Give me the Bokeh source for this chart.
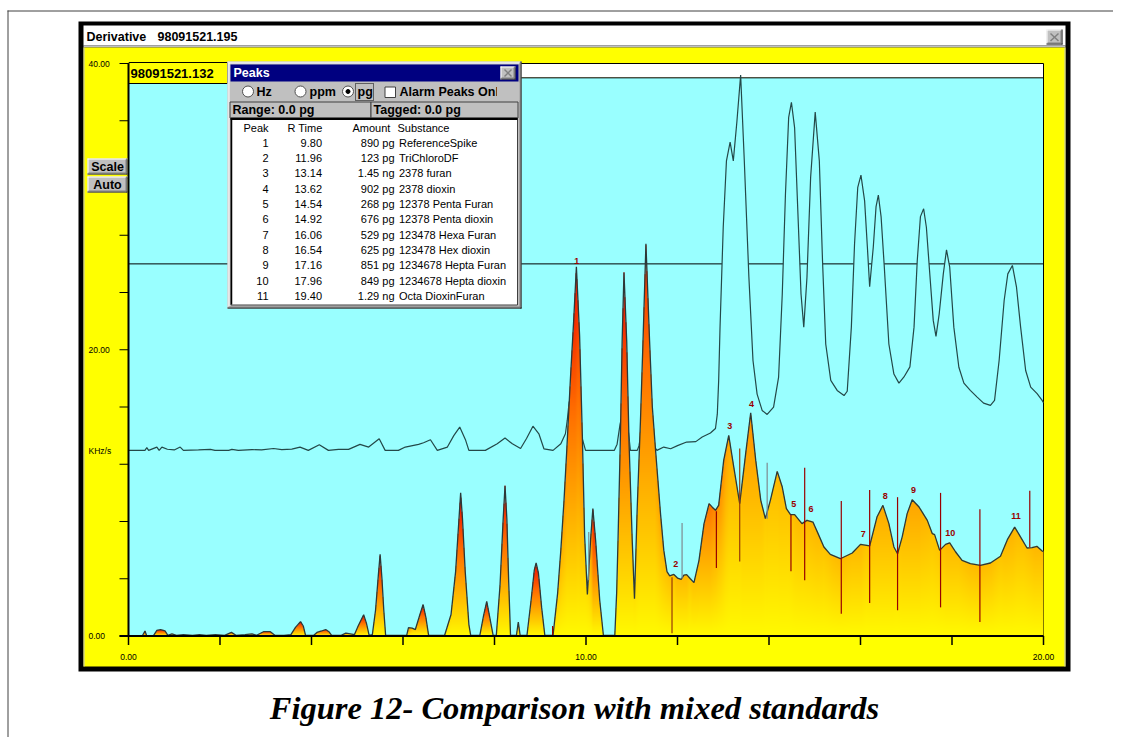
import numpy as np
from bokeh.plotting import figure
from bokeh.models import Range1d
from bokeh.core.properties import value
from bokeh.embed import file_html
from bokeh.resources import INLINE

# ------------------------------------------------------------------ data
# lower chromatogram (filled, gradient) : retention time (min) / KHz/s
lower_x = [0.00, 0.30, 0.36, 0.40, 0.55, 0.62, 0.70, 0.80, 0.86, 0.95, 1.05, 1.20, 1.40, 1.55,
           1.70, 1.90, 2.10, 2.25, 2.35, 2.55, 2.70, 2.80, 2.95, 3.10, 3.20, 3.40, 3.55, 3.65,
           3.76, 3.82, 3.87, 4.05, 4.12, 4.22, 4.31, 4.38, 4.44, 4.65, 4.75, 4.85, 4.94, 5.02,
           5.14, 5.20, 5.26, 5.33, 5.40, 5.46, 5.50, 5.54, 5.58, 5.62, 6.08, 6.12, 6.20, 6.27,
           6.36, 6.44, 6.50, 6.56, 6.91, 7.05, 7.15, 7.22, 7.26, 7.30, 7.36, 7.44, 7.48, 7.68,
           7.76, 7.83, 7.89, 7.97, 8.04, 8.12, 8.19, 8.23, 8.27, 8.31, 8.35, 8.48, 8.52, 8.56,
           8.71, 8.80, 8.87, 8.91, 8.96, 9.03, 9.10, 9.28, 9.38, 9.45, 9.52, 9.58, 9.66, 9.73,
           9.79, 9.86, 9.92, 9.97, 10.03, 10.10, 10.15, 10.21, 10.30, 10.38, 10.63, 10.67,
           10.70, 10.75, 10.79, 10.83, 10.89, 10.94, 11.01, 11.06, 11.12, 11.19, 11.25, 11.31,
           11.39, 11.45, 11.52, 11.63, 11.70, 11.77, 11.83, 11.92, 12.00, 12.08, 12.14, 12.20,
           12.28, 12.36, 12.47, 12.58, 12.69, 12.76, 12.83, 12.90, 13.01, 13.12, 13.23, 13.36,
           13.49, 13.60, 13.71, 13.82, 13.92, 14.03, 14.18, 14.29, 14.38, 14.47, 14.56, 14.72,
           14.83, 14.96, 15.08, 15.20, 15.34, 15.56, 15.82, 16.00, 16.20, 16.36, 16.49, 16.62,
           16.73, 16.81, 16.91, 17.02, 17.13, 17.28, 17.46, 17.57, 17.62, 17.73, 17.86, 17.95,
           18.08, 18.22, 18.40, 18.62, 18.84, 19.06, 19.21, 19.37, 19.50, 19.64, 19.75, 19.86,
           19.97, 20.00]
lower_y = [0.00, 0.00, 0.35, 0.00, 0.05, 0.40, 0.45, 0.35, 0.05, 0.15, 0.05, 0.10, 0.05, 0.10,
           0.05, 0.10, 0.05, 0.25, 0.05, 0.10, 0.15, 0.05, 0.30, 0.30, 0.05, 0.05, 0.10, 0.60,
           1.00, 0.70, 0.05, 0.05, 0.25, 0.35, 0.45, 0.30, 0.05, 0.05, 0.20, 0.15, 0.10, 0.70,
           1.49, 0.90, 0.05, 0.10, 1.80, 4.20, 5.70, 4.00, 1.80, 0.05, 0.05, 0.58, 0.55, 0.45,
           1.40, 2.20, 1.30, 0.05, 0.05, 1.50, 4.50, 8.00, 10.00, 8.20, 4.50, 0.80, 0.05, 0.05,
           1.40, 2.42, 1.40, 0.05, 0.05, 3.50, 8.20, 10.50, 8.20, 3.80, 0.05, 0.05, 0.98, 0.05,
           0.05, 2.50, 4.60, 5.10, 4.40, 2.00, 0.05, 0.05, 3.00, 6.00, 9.50, 13.00, 18.00, 22.00,
           25.80, 21.00, 14.00, 7.00, 2.90, 6.70, 8.90, 6.70, 2.50, 0.05, 0.05, 3.00,
           6.70, 13.60, 20.60, 25.40, 20.60, 13.60, 6.70, 2.60, 9.00, 15.00, 21.00, 27.40,
           20.60, 16.00, 13.00, 8.50, 6.00, 4.50, 4.20, 4.30, 4.05, 3.96, 4.25, 4.29,
           4.00, 3.73, 5.29, 7.85, 9.25, 9.00, 8.78, 9.13, 12.27, 14.02, 11.80, 9.25,
           12.74, 15.60, 12.27, 9.48, 8.20, 9.48, 11.50, 10.41, 8.90, 8.48, 8.48, 7.85,
           8.08, 7.96, 7.10, 6.22, 5.70, 5.40, 5.80, 6.40, 6.29, 8.31, 9.13, 7.85,
           6.22, 5.75, 6.91, 8.55, 9.52, 9.01, 8.08, 7.15, 7.08, 5.98, 6.40, 6.50,
           5.87, 5.29, 5.06, 4.94, 5.10, 5.57, 6.73, 7.61, 6.91, 6.15, 6.17, 6.26,
           5.94, 5.90]

# upper trace (line)
upper_x = [0.00, 0.36, 0.40, 0.44, 0.62, 0.67, 0.73, 0.85, 1.00, 1.13, 1.20, 1.53, 1.79, 1.89,
           2.19, 2.26, 2.40, 2.70, 2.91, 3.17, 3.35, 3.57, 3.75, 3.93, 4.17, 4.37, 4.59, 4.81,
           5.06, 5.25, 5.48, 5.61, 5.90, 6.05, 6.34, 6.45, 6.60, 6.75, 6.97, 7.11, 7.24, 7.37,
           7.44, 7.80, 8.06, 8.23, 8.39, 8.57, 8.70, 8.84, 8.97, 9.08, 9.28, 9.45, 9.55, 9.59,
           9.63, 9.78, 9.91, 9.99, 10.62, 10.68, 10.745, 10.83, 10.93, 10.97, 11.12, 11.16,
           11.20, 11.30, 11.50, 11.55, 11.70, 11.85, 12.00, 12.20, 12.40, 12.54, 12.72, 12.83,
           12.87, 12.90, 12.93, 13.00, 13.07, 13.15, 13.22, 13.30, 13.38, 13.46, 13.56, 13.65,
           13.74, 13.85, 13.96, 14.10, 14.21, 14.29, 14.36, 14.43, 14.49, 14.56, 14.63, 14.70,
           14.76, 14.83, 14.91, 15.01, 15.10, 15.17, 15.24, 15.35, 15.49, 15.64, 15.71, 15.80,
           15.87, 15.94, 16.01, 16.09, 16.15, 16.20, 16.28, 16.34, 16.39, 16.45, 16.52, 16.62,
           16.73, 16.84, 16.95, 17.08, 17.17, 17.24, 17.31, 17.38, 17.44, 17.52, 17.59, 17.65,
           17.72, 17.81, 17.88, 17.95, 18.04, 18.15, 18.26, 18.40, 18.55, 18.69, 18.84, 18.93,
           19.03, 19.14, 19.22, 19.32, 19.41, 19.50, 19.61, 19.72, 19.86, 19.97, 20.00]
upper_y = [12.97, 12.97, 13.16, 12.97, 13.20, 12.97, 13.20, 13.05, 13.00, 13.20, 12.97, 13.00,
           13.04, 12.97, 12.97, 13.04, 12.97, 13.02, 13.00, 13.10, 13.02, 13.06, 13.20, 12.97,
           13.36, 12.97, 13.04, 13.04, 13.39, 13.20, 13.78, 12.97, 12.97, 13.20, 13.39, 13.50,
           13.71, 12.97, 13.20, 14.00, 14.60, 13.67, 12.97, 12.97, 13.43, 13.83, 13.43, 13.10,
           13.80, 14.66, 14.13, 13.08, 12.97, 13.43, 14.13, 15.06, 16.30, 18.00, 13.90, 12.97,
           12.97, 13.40, 14.80, 16.00, 14.20, 12.97, 12.97, 13.30, 14.20, 16.00, 13.20, 12.97,
           13.20, 13.08, 13.30, 13.55, 13.58, 13.90, 14.18, 14.50, 15.50, 17.86, 21.60, 28.60,
           33.20, 34.50, 33.20, 36.00, 39.20, 33.20, 25.10, 19.25, 16.90, 15.76, 15.48, 15.99,
           18.09, 23.90, 30.90, 36.24, 37.29, 35.50, 29.70, 23.90, 21.58, 25.07, 32.05, 36.60,
           33.20, 26.20, 20.40, 17.86, 17.16, 16.80, 17.10, 21.58, 27.40, 31.35, 32.20, 30.40,
           27.20, 24.40, 27.20, 30.00, 30.80, 29.30, 25.80, 20.40, 18.30, 17.67, 18.10, 18.80,
           21.58, 26.20, 29.30, 29.85, 28.56, 25.07, 22.05, 20.93, 22.50, 25.30, 26.98, 25.77,
           21.58, 18.78, 17.67, 17.16, 16.69, 16.27, 16.11, 16.46, 19.25, 23.44, 25.30, 25.89,
           24.37, 21.58, 18.55, 17.39, 16.93, 16.46, 16.30]

threshold = 26.0          # horizontal reference line
unit_label = "KHz/s"
unit_label_y = 12.9

# peak table
peak_ids = [1, 2, 3, 4, 5, 6, 7, 8, 9, 10, 11]
peak_rtime = [9.80, 11.96, 13.14, 13.62, 14.54, 14.92, 16.06, 16.54, 17.16, 17.96, 19.40]
peak_amount = ["890 pg", "123 pg", "1.45 ng", "902 pg", "268 pg", "676 pg",
               "529 pg", "625 pg", "851 pg", "849 pg", "1.29 ng"]
peak_substance = ["ReferenceSpike", "TriChloroDF", "2378 furan", "2378 dioxin",
                  "12378 Penta Furan", "12378 Penta dioxin", "123478 Hexa Furan",
                  "123478 Hex dioxin", "1234678 Hepta Furan", "1234678 Hepta dioxin",
                  "Octa DioxinFuran"]
peak_label_y = [26.2, 5.05, 14.7, 16.2, 9.2, 8.85, 7.15, 9.78, 10.2, 7.22, 8.36]

# integration markers
marker_x = [9.27, 10.06, 11.88, 12.10, 12.85, 13.36, 13.96, 14.48, 14.78, 15.58, 16.20,
            16.81, 17.75, 18.61, 19.70]
marker_top = [0.7, 7.26, 4.1, 7.9, 8.71, 13.1, 12.1, 8.48, 11.76, 9.43, 10.2, 9.7, 10.0,
              8.85, 10.15]
marker_bottom = [0.0, 3.9, 0.2, 4.0, 4.75, 5.2, 8.2, 4.52, 3.89, 1.56, 2.3, 1.8, 2.0,
                 0.98, 6.2]
marker_kind = ["dark", "grey", "brown", "grey", "dark", "brown", "grey", "dark", "dark",
               "dark", "dark", "dark", "dark", "dark", "dark"]

# axes
x_ticks = [0, 2, 4, 6, 8, 10, 12, 14, 16, 18, 20]
x_label_vals = [0, 10, 20]
x_label_text = ["0.00", "10.00", "20.00"]
y_ticks = [0, 4, 8, 12, 16, 20, 24, 28, 32, 36, 40]
y_label_vals = [0, 20, 40]
y_label_text = ["0.00", "20.00", "40.00"]

# ------------------------------------------------------------------ geometry / style
W, H = 1113, 737
PX0, PX20, PY0, PY40 = 128.0, 1043.0, 635.5, 63.0
XS = (PX20 - PX0) / 20.0
YS = (PY0 - PY40) / 40.0
CYAN = "#99ffff"
YEL = "#ffff00"
GREY = "#c0c0c0"
SANS = "Liberation Sans"

p = figure(width=W, height=H, x_range=Range1d(0, W), y_range=Range1d(H, 0),
           output_backend="svg", toolbar_location=None, min_border=0, title=None,
           x_axis_location=None, y_axis_location=None,
           background_fill_color="white", border_fill_color="white", outline_line_color=None)
p.xgrid.visible = False
p.ygrid.visible = False
p.extra_x_ranges = {"t": Range1d((0 - PX0) / XS, (W - PX0) / XS)}
p.extra_y_ranges = {"k": Range1d((PY0 - H) / YS, PY0 / YS)}
D = dict(x_range_name="t", y_range_name="k")


def rect(l, t, r, b, fill, line=None, lw=1.0, dash="solid"):
    p.quad(left=[l], right=[r], top=[t], bottom=[b], fill_color=fill, line_color=line,
           line_width=lw, line_dash=dash)


def seg(x0, y0, x1, y1, color, lw=1.0):
    p.segment(x0=[x0], y0=[y0], x1=[x1], y1=[y1], line_color=color, line_width=lw)


def txt(x, y, s, size=12.5, align="left", color="black", style="normal", font=SANS,
        baseline="middle"):
    p.text(x=[x], y=[y], text=[s], text_font=value(font), text_font_size=f"{size}px",
           text_font_style=style, text_align=align, text_baseline=baseline, text_color=color)


def bevel(l, t, r, b):
    rect(l, t, r, b, GREY)
    seg(l, t + 0.5, r, t + 0.5, "white")
    seg(l + 0.5, t, l + 0.5, b, "white")
    seg(l, b - 0.5, r, b - 0.5, "#202020")
    seg(r - 0.5, t, r - 0.5, b, "#202020")
    seg(l + 1, b - 1.5, r - 1, b - 1.5, "#808080")
    seg(r - 1.5, t + 1, r - 1.5, b - 1, "#808080")


# ------------------------------------------------------------------ page + window chrome
seg(7, 10.5, W, 10.5, "#404040")
seg(7.5, 10, 7.5, H, "#404040")

rect(78, 21, 1070, 671, "black")
rect(83, 25, 1065, 45, "white")
rect(83, 45, 1065, 47, GREY)
rect(83, 47, 1065, 666, YEL)
seg(83.5, 47, 83.5, 666, GREY)
seg(1064.5, 47, 1064.5, 666, GREY)
txt(86, 36, "Derivative", 12.5, style="bold")
txt(157, 36, "98091521.195", 12.5, style="bold")
bevel(1046, 29, 1062, 44)
seg(1050, 33, 1058, 40.5, "#808080", 1.5)
seg(1058, 33, 1050, 40.5, "#808080", 1.5)

# ------------------------------------------------------------------ chart
p.quad(left=[0], right=[20], bottom=[0], top=[39], fill_color=CYAN, line_color=None, **D)
p.quad(left=[0], right=[20], bottom=[39], top=[40], fill_color="white", line_color=None, **D)
p.segment(x0=[0, 0, 20], x1=[20, 20, 20], y0=[39, 40, 0], y1=[39, 40, 40],
          line_color="black", line_width=1, **D)
p.segment(x0=[0], x1=[20], y0=[threshold], y1=[threshold], line_color="black",
          line_width=1, **D)

uy = np.array(upper_y)
p.varea(x=upper_x, y1=np.minimum(uy, threshold - 0.15), y2=uy, fill_color=CYAN, **D)
p.line(upper_x, upper_y, line_color="#244848", line_width=1.2, **D)

# gradient fill under the lower trace
IMG_TOP = 28.5
ncol = int(round(20 * XS))
nrow = int(round(IMG_TOP * YS))
xc = (np.arange(ncol) + 0.5) * 20.0 / ncol
yc = (np.arange(nrow) + 0.5) * IMG_TOP / nrow
h = np.interp(xc, lower_x, lower_y)


def sliding(arr, half, fn):
    pad = np.pad(arr, half, mode="edge")
    win = np.lib.stride_tricks.sliding_window_view(pad, 2 * half + 1)
    return fn(win, axis=1)


step = 20.0 / ncol
hmax = sliding(h, int(0.2 / step), np.max)
hmin = sliding(h, int(0.5 / step), np.min)
prom = np.clip((hmax - hmin) / np.maximum(hmax, 1e-6), 0.3, 1.0)
tt = np.clip(yc[:, None] / np.maximum(hmax[None, :], 0.3), 0, 1) * prom[None, :]
stops = [0.0, 0.35, 0.62, 0.85, 1.0]
R = np.interp(tt, stops, [255, 255, 255, 245, 228])
G = np.interp(tt, stops, [250, 172, 110, 48, 18])
inside = yc[:, None] <= h[None, :]
img = np.zeros((nrow, ncol), dtype=np.uint32)
view = img.view(dtype=np.uint8).reshape((nrow, ncol, 4))
view[:, :, 0] = R.astype(np.uint8)
view[:, :, 1] = G.astype(np.uint8)
view[:, :, 2] = 0
view[:, :, 3] = np.where(inside, 255, 0).astype(np.uint8)
p.image_rgba(image=[img], x=0, y=0, dw=20, dh=IMG_TOP, **D)
p.line(lower_x, lower_y, line_color="#2c3838", line_width=1.3, **D)

mcol = {"dark": "#990000", "grey": "#7f8a8f", "brown": "#9a3a08"}
p.segment(x0=marker_x, x1=marker_x, y0=marker_bottom, y1=marker_top,
          line_color=[mcol[k] for k in marker_kind], line_width=1.2, **D)
p.text(x=peak_rtime, y=peak_label_y, text=[str(i) for i in peak_ids],
       text_font=value(SANS), text_font_size="9px", text_font_style="bold",
       text_color="#990000", text_align="center", text_baseline="middle", **D)

# axes (drawn on the chart's own data ranges)
TICK = 9.0
p.segment(x0=[0], x1=[0], y0=[0], y1=[40], line_color="black", line_width=2, **D)
p.segment(x0=[-TICK / XS], x1=[20], y0=[0], y1=[0], line_color="black", line_width=2, **D)
p.segment(x0=[0] * len(y_ticks), x1=[-TICK / XS] * len(y_ticks), y0=y_ticks, y1=y_ticks,
          line_color="black", line_width=1, **D)
p.segment(x0=x_ticks, x1=x_ticks, y0=[0] * len(x_ticks), y1=[-TICK / YS] * len(x_ticks),
          line_color="black", line_width=1.5, **D)
p.text(x=[0] * 3, y=y_label_vals, text=y_label_text, x_offset=-40, text_font=value(SANS),
       text_font_size="8.5px", text_align="left", text_baseline="middle", **D)
p.text(x=[0], y=[unit_label_y], text=[unit_label], x_offset=-40, text_font=value(SANS),
       text_font_size="8.5px", text_align="left", text_baseline="middle", **D)
p.text(x=x_label_vals, y=[0] * 3, text=x_label_text, y_offset=21, text_font=value(SANS),
       text_font_size="8.5px", text_align="center", text_baseline="middle", **D)

# yellow trace-id box
rect(128.5, 62, 227, 83, YEL, line="black", lw=1)
txt(130, 73, "98091521.132", 13, style="bold")

# ------------------------------------------------------------------ Peaks dialog
rect(227, 61, 521, 308, GREY)
seg(227, 61.5, 521, 61.5, "#dfdfdf")
seg(227.5, 61, 227.5, 308, "#dfdfdf")
seg(228, 62.5, 520, 62.5, "white")
seg(228.5, 62, 228.5, 307, "white")
seg(227, 307.5, 521, 307.5, "black")
seg(520.5, 61, 520.5, 308, "black")
seg(228, 306.5, 520, 306.5, "#808080")
seg(519.5, 62, 519.5, 307, "#808080")
rect(230, 64, 518, 81, "#000080")
txt(233, 72.5, "Peaks", 12.5, color="white", style="bold")
bevel(500, 66, 515, 79)
seg(504, 69, 511, 76, "#808080", 1.5)
seg(511, 69, 504, 76, "#808080", 1.5)

p.scatter(x=[247.5, 300, 347.5], y=[91, 91, 91], size=11, marker="circle",
          fill_color="white", line_color="#505050", line_width=1)
p.scatter(x=[347.5], y=[91], size=4, marker="circle", fill_color="black", line_color="black")
txt(256, 91.5, "Hz", 12.5, style="bold")
txt(309, 91.5, "ppm", 12.5, style="bold")
txt(357, 91.5, "pg", 12.5, style="bold")
rect(355, 83, 373, 100, None, line="black", lw=1, dash="1 1")
rect(384.5, 86.5, 395, 97, "white", line="#404040")
txt(399, 91.5, "Alarm Peaks Only", 12.5, style="bold")
rect(496.5, 82, 519, 100, GREY)

rect(229.5, 101.5, 370.5, 117.5, GREY, line="#404040")
rect(370.5, 101.5, 517.5, 117.5, GREY, line="#404040")
txt(232, 109.5, "Range: 0.0 pg", 12.5, style="bold")
txt(373, 109.5, "Tagged: 0.0 pg", 12.5, style="bold")

rect(230.5, 117.5, 517, 304.5, "white", line="#404040")
seg(230, 118.5, 517, 118.5, "black", 2)
seg(231, 118, 231, 304, "black", 1.5)
HY = 127.0
txt(243, HY, "Peak", 11)
txt(287, HY, "R Time", 11)
txt(352, HY, "Amount", 11)
txt(397, HY, "Substance", 11)
row_y = [142.3 + 15.3 * i for i in range(len(peak_ids))]
p.text(x=[268] * len(row_y), y=row_y, text=[str(i) for i in peak_ids], text_font=value(SANS),
       text_font_size="11px", text_align="right", text_baseline="middle")
p.text(x=[321.5] * len(row_y), y=row_y, text=[f"{v:.2f}" for v in peak_rtime],
       text_font=value(SANS), text_font_size="11px", text_align="right",
       text_baseline="middle")
p.text(x=[394] * len(row_y), y=row_y, text=peak_amount, text_font=value(SANS),
       text_font_size="11px", text_align="right", text_baseline="middle")
p.text(x=[398.5] * len(row_y), y=row_y, text=peak_substance, text_font=value(SANS),
       text_font_size="11px", text_align="left", text_baseline="middle")

# ------------------------------------------------------------------ Scale / Auto buttons
bevel(87, 158, 127, 174)
txt(107, 166.5, "Scale", 12.5, align="center", style="bold")
bevel(87, 176, 127, 192)
txt(107, 184.5, "Auto", 12.5, align="center", style="bold")

# ------------------------------------------------------------------ caption
txt(574, 707, "Figure 12- Comparison with mixed standards", 32.5, align="center",
    style="bold italic", font="Liberation Serif", baseline="middle")

open("out.html", "w").write(file_html(p, INLINE))
